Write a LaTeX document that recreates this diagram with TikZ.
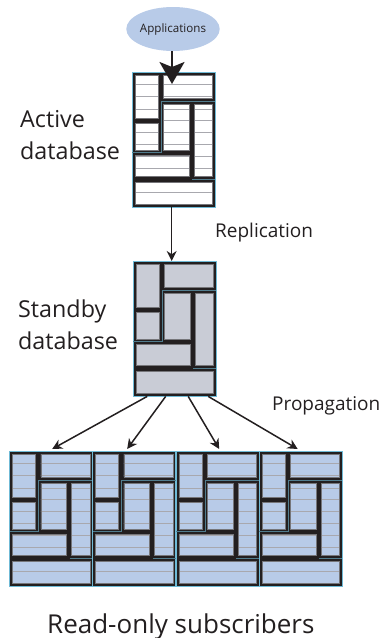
\documentclass[tikz,border=0pt]{standalone}
\usepackage{fontspec}
\setmainfont{Open Sans}
\usetikzlibrary{arrows.meta,shapes.geometric}
\definecolor{roomblue}{HTML}{B8CBE8}
\definecolor{roomgrey}{HTML}{C9CCD6}
\definecolor{inkdark}{HTML}{231F20}
\definecolor{edgeblue}{HTML}{6FBAD6}
\definecolor{ruleline}{HTML}{A8A8AE}
\tikzset{
  flow/.style={draw=inkdark,line width=1.5pt,-{Stealth[length=10pt,width=10pt]}},
  bigflow/.style={draw=inkdark,line width=2.2pt,-{Stealth[length=22pt,width=25pt,inset=5pt]}},
  lbl/.style={anchor=base west,inner sep=0pt,text=inkdark},
  blockbox/.style={anchor=north west,inner sep=0pt,minimum width=83pt,minimum height=135pt},
}
\def\roomspath{
  (3,3) rectangle (26,46)
  (3,51) rectangle (26,78)
  (31.3,3) rectangle (80.5,26)
  (31.3,32) rectangle (57,78)
  (62,32) rectangle (80.5,104.5)
  (3,83) rectangle (57,104.5)
  (3,110) rectangle (80.5,132.5)
}
% name, x, y, fill, rules (1/0)
\newcommand{\dbblock}[5]{%
  \node[blockbox] (#1) at (#2,#3) {};
  \begin{scope}[shift={(#2,#3)}]
    \fill[inkdark] (0,0) rectangle (83,135);
    \fill[#4] \roomspath;
    \ifnum#5=1
      \begin{scope}
        \clip \roomspath;
        \foreach \yy in {12.7,24.7,37,48.7,60.7,72.7,84.7,96.7,120.7}
          \draw[ruleline,line width=1pt] (0,\yy) -- (83,\yy);
      \end{scope}
    \fi
    \draw[ruleline!70!black,line width=0.4pt] \roomspath;
    \draw[edgeblue,line width=0.5pt] (0,0) rectangle (83,135);
    \draw[edgeblue!60!inkdark,line width=0.3pt] (29,29.3) -- (29,80) -- (0,80)
      (29,29.3) -- (83,29.3) (60,106.7) -- (83,106.7);
  \end{scope}
}
\begin{document}
\begin{tikzpicture}[x=1pt,y=-1pt]
\useasboundingbox (0,0) rectangle (383,638);
\node[ellipse,fill=roomblue,minimum width=90pt,minimum height=44pt,inner sep=0pt,
      font=\fontsize{11.6}{13}\selectfont,text=inkdark] (apps) at (173,29) {Applications};
\dbblock{active}{132}{72}{white}{1}
\dbblock{standby}{133}{261}{roomgrey}{0}
\dbblock{subA}{9.5}{451}{roomblue}{1}
\dbblock{subB}{92.5}{451}{roomblue}{1}
\dbblock{subC}{176}{451}{roomblue}{1}
\dbblock{subD}{259}{451}{roomblue}{1}
\coordinate (appsTip) at (172,84);
\coordinate (appsTail) at (172,51);
\draw[bigflow] (appsTail) -- (appsTip);
\draw[flow] ([xshift=-2pt]active.south) -- ([xshift=-3pt]standby.north);
\draw[flow] ([xshift=-27.5pt]standby.south) -- ([xshift=1pt,yshift=2pt]subA.north);
\draw[flow] ([xshift=-9pt]standby.south) -- ([xshift=-7pt,yshift=2pt]subB.north);
\draw[flow] ([xshift=13.5pt]standby.south) -- ([xshift=1.5pt,yshift=2pt]subC.north);
\draw[flow] ([xshift=33.5pt]standby.south) -- ([xshift=-3pt,yshift=2pt]subD.north);
\node[lbl,font=\fontsize{23.3}{27}\selectfont] (t1) at (20,127) {Active};
\node[lbl,font=\fontsize{23.3}{27}\selectfont] (t2) at (20,159) {database};
\node[lbl,font=\fontsize{23.3}{27}\selectfont] (t3) at (18,317) {Standby};
\node[lbl,font=\fontsize{23.3}{27}\selectfont] (t4) at (18,349) {database};
\node[lbl,font=\fontsize{19}{22}\selectfont] (t5) at (215,237) {Replication};
\node[lbl,font=\fontsize{19}{22}\selectfont] (t6) at (272,410) {Propagation};
\node[lbl,font=\fontsize{26}{31}\selectfont] (t7) at (47,633) {Read-only subscribers};
\end{tikzpicture}
\end{document}
